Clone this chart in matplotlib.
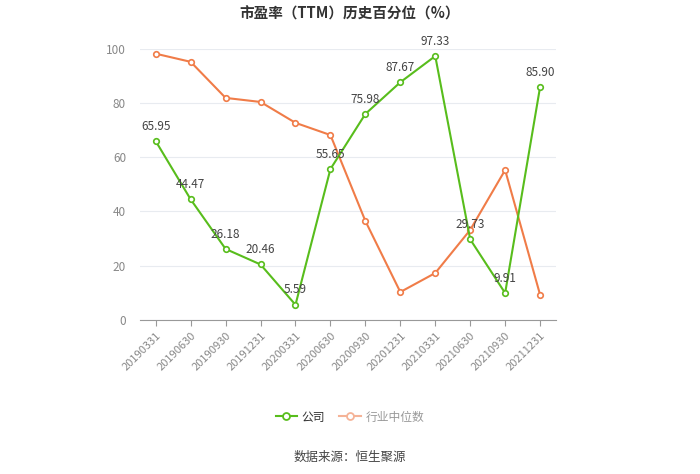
import matplotlib
matplotlib.use("Agg")
import matplotlib.pyplot as plt
from matplotlib.lines import Line2D

plt.rcParams['font.family'] = ['Noto Sans CJK SC', 'DejaVu Sans']

dates = ["20190331", "20190630", "20190930", "20191231", "20200331", "20200630",
         "20200930", "20201231", "20210331", "20210630", "20210930", "20211231"]
company = [65.95, 44.47, 26.18, 20.46, 5.59, 55.65, 75.98, 87.67, 97.33, 29.73, 9.91, 85.90]
industry = [98.2, 95.2, 81.9, 80.4, 72.7, 68.2, 36.5, 10.3, 17.3, 33.2, 55.3, 9.3]

green = '#58bd1c'
orange = '#f07c48'

fig = plt.figure(figsize=(7, 4.74), dpi=100)
ax = fig.add_axes([0.2, 0.325, 0.594, 0.572])
x = list(range(len(dates)))

ax.plot(x, industry, color=orange, lw=1.5, marker='o', ms=4, mfc='white', mec=orange, mew=1.2, zorder=3)
ax.plot(x, company, color=green, lw=1.5, marker='o', ms=4, mfc='white', mec=green, mew=1.2, zorder=4)
for xi, v in zip(x, company):
    ax.annotate(f"{v:.2f}", (xi, v), xytext=(0, 6), textcoords='offset points',
                ha='center', va='bottom', fontsize=8.5, color='#444444', zorder=5)

ax.set_xlim(-0.45, len(dates) - 0.55)
ax.set_ylim(0, 100)
ax.set_yticks([0, 20, 40, 60, 80, 100])
ax.grid(axis='y', color='#e8ebf0', lw=0.8)
ax.set_axisbelow(True)
for s in ['top', 'right', 'left']:
    ax.spines[s].set_visible(False)
ax.spines['bottom'].set_color('#999999')
ax.tick_params(axis='y', length=0, labelsize=8.5, labelcolor='#888888', pad=10)
ax.tick_params(axis='x', length=4, color='#999999', labelsize=8, labelcolor='#888888')
ax.set_xticks(x)
ax.set_xticklabels(dates, rotation=45, ha='right', rotation_mode='anchor')

fig.text(0.5, 0.972, "市盈率（TTM）历史百分位（%）", ha='center', va='center',
         fontsize=10.5, fontweight='bold', color='#333333')

handles = [Line2D([0], [0], color=green, lw=1.5, marker='o', ms=5, mfc='white', mec=green, mew=1.3),
           Line2D([0], [0], color='#f5b397', lw=1.5, marker='o', ms=5, mfc='white', mec='#f5b397', mew=1.3)]
leg = fig.legend(handles, ["公司", "行业中位数"], loc='center', bbox_to_anchor=(0.5, 0.12),
                 ncol=2, frameon=False, fontsize=8.5, handlelength=1.8, columnspacing=1.2, handletextpad=0.4)
leg.get_texts()[0].set_color('#333333')
leg.get_texts()[1].set_color('#999999')

fig.text(0.5, 0.034, "数据来源：恒生聚源", ha='center', va='center', fontsize=9, color='#444444')

fig.savefig("out.png", dpi=100)
